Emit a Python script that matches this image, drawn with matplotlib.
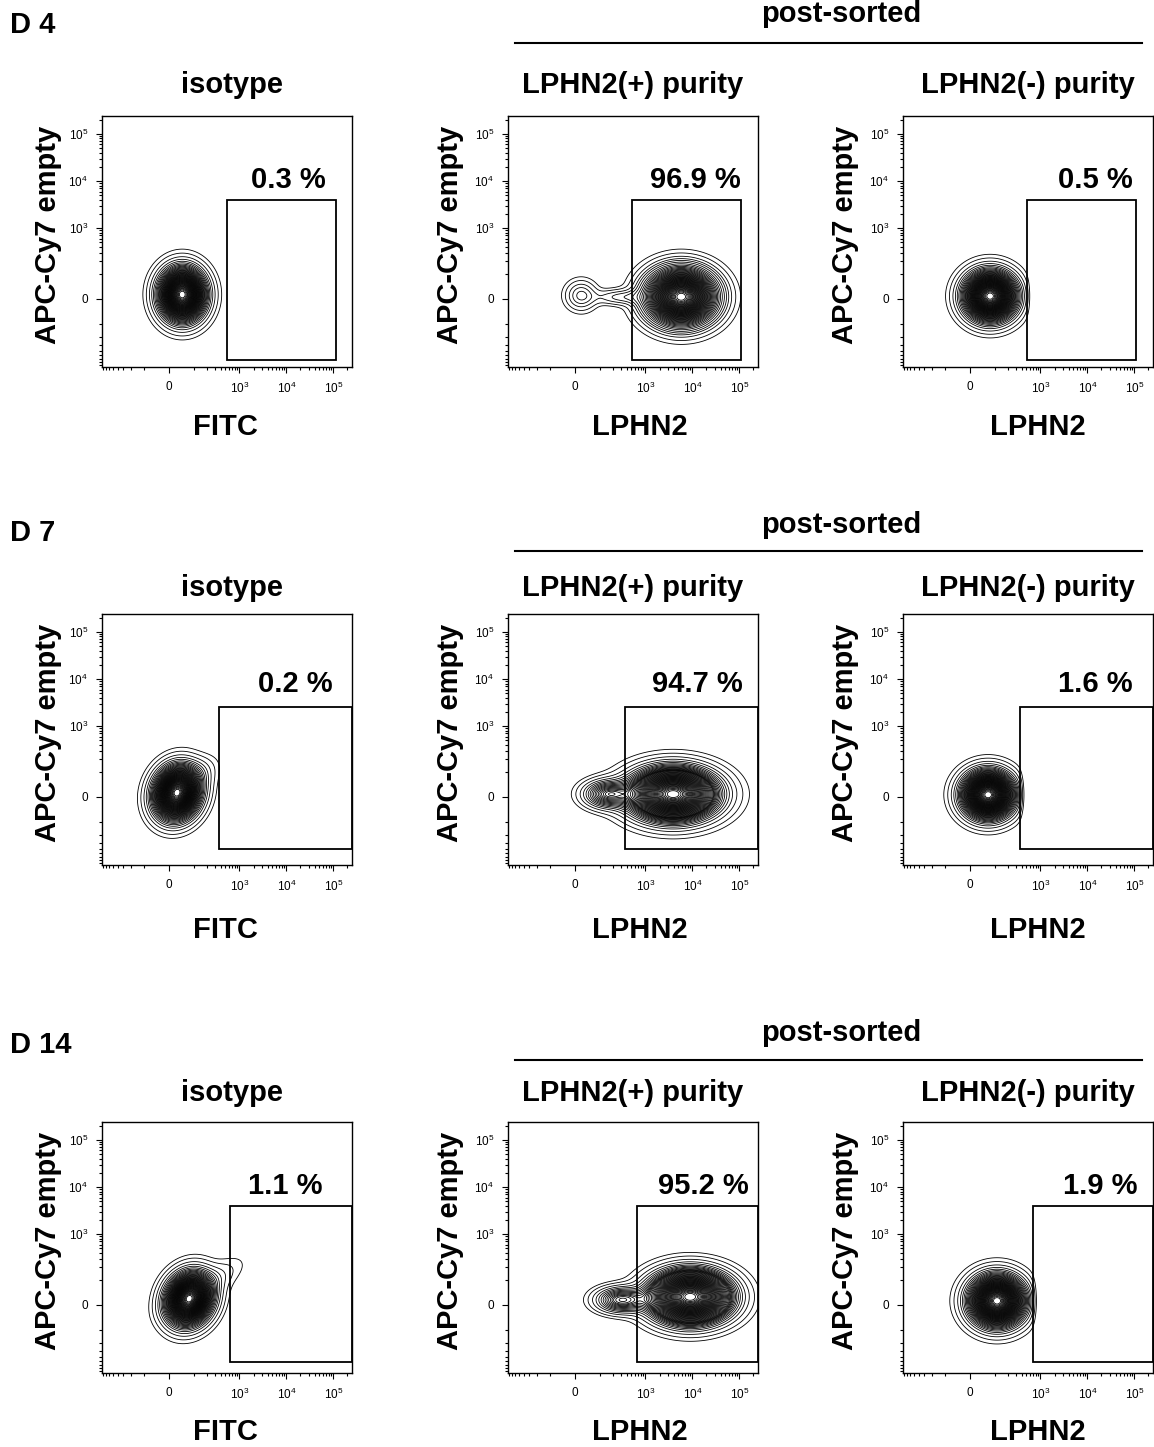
import numpy as np
import matplotlib.pyplot as plt
from matplotlib.patches import Rectangle
from matplotlib.lines import Line2D

plt.rcParams['font.family'] = ['Liberation Sans', 'DejaVu Sans']
plt.rcParams['mathtext.fontset'] = 'custom'
plt.rcParams['mathtext.rm'] = 'Liberation Sans'
plt.rcParams['mathtext.it'] = 'Liberation Sans:italic'
plt.rcParams['mathtext.bf'] = 'Liberation Sans:bold'

W, H = 1154, 1447
LIN_W = 64  # linear width of the biexponential-like (asinh) display

day_labels = ["D 4", "D 7", "D 14"]
panel_titles = ["isotype", "LPHN2(+) purity", "LPHN2(-) purity"]
x_labels = ["FITC", "LPHN2", "LPHN2"]
y_label = "APC-Cy7 empty"
group_label = "post-sorted"
gate_pcts = [[0.3, 96.9, 0.5],
             [0.2, 94.7, 1.6],
             [1.1, 95.2, 1.9]]

# gate boxes: x_min, x_max, y_min, y_max (fluorescence units)
gates = [
    [(540, 1.15e5, -635, 3900), (530, 1.1e5, -635, 3900), (530, 1.1e5, -635, 3900)],
    [(370, 2.5e5, -405, 2600), (370, 2.5e5, -405, 2600), (370, 2.5e5, -405, 2600)],
    [(634, 2.5e5, -525, 3900), (668, 2.5e5, -525, 3900), (700, 2.5e5, -525, 3900)],
]

# cell populations: x centre, y centre, x spread, y spread (decades), correlation, fraction
populations = [
    [
        [(44, 13, 0.27, 0.31, 0.0, 1.0)],
        [(5800, 6, 0.40, 0.32, 0.0, 0.956), (19, 10, 0.20, 0.19, 0.0, 0.017),
         (300, 5, 0.35, 0.10, 0.0, 0.012)],
        [(73, 8, 0.31, 0.29, 0.0, 1.0)],
    ],
    [
        [(25, 12, 0.27, 0.31, 0.12, 0.975), (110, 80, 0.26, 0.22, 0.4, 0.025)],
        [(3900, 8, 0.53, 0.31, 0.0, 0.93), (150, 8, 0.30, 0.17, 0.0, 0.07)],
        [(64, 6, 0.31, 0.28, 0.0, 1.0)],
    ],
    [
        [(73, 18, 0.27, 0.30, 0.15, 0.96), (180, 70, 0.42, 0.30, 0.75, 0.04)],
        [(9000, 25, 0.49, 0.31, 0.0, 0.93), (300, 15, 0.32, 0.16, 0.0, 0.07)],
        [(111, 12, 0.33, 0.30, 0.0, 1.0)],
    ],
]
# LPHN2(-) sorted cells stop at the sort gate
sort_cutoff = [[None, None, 530], [None, None, 370], [None, None, 700]]

XLIM = (-860, 2.5e5)
YLIM = (-900, 2.4e5)
major_ticks = [0, 1e3, 1e4, 1e5]
major_labels = ['0', r'$\mathregular{10^3}$', r'$\mathregular{10^4}$', r'$\mathregular{10^5}$']
minor_ticks = ([-k * 100 for k in range(1, 9)] + [k * 100 for k in range(1, 10)]
               + [k * 10 ** n for n in (3, 4) for k in range(2, 10)] + [2e5])

# layout in pixels
col_left = [102, 508, 903]
row_top = [116, 614, 1122]
ax_w, ax_h = 250, 251
day_y = [25, 533, 1045]
sorted_y = [14, 525, 1033]
line_y = [43, 551, 1060]
title_y = [85, 588, 1093]
title_x = [232, 633, 1028]
xlabel_y = [427, 930, 1432]
xlabel_x = [225, 640, 1038]
ylabel_x = [48, 450, 845]
pct_y = [180, 684, 1186]
pct_x = [[288, 695, 1095], [295, 697, 1095], [285, 703, 1100]]


def to_dec(v):
    return np.arcsinh(np.asarray(v, float) / LIN_W) / np.log(10)


def from_dec(u):
    return LIN_W * np.sinh(np.asarray(u, float) * np.log(10))


def fx(x):
    return x / W


def fy(y):
    return 1 - y / H


def mass_levels(z, fracs):
    flat = np.sort(z.ravel())[::-1]
    cum = np.cumsum(flat)
    cum /= cum[-1]
    return np.unique([flat[min(np.searchsorted(cum, f), flat.size - 1)] for f in fracs])


# equal-probability contours, a few sparse outer ones then 2 % steps
fracs = [0.992, 0.982] + list(np.arange(0.965, 0.015, -0.02))

fig = plt.figure(figsize=(W / 100, H / 100), dpi=100)
bold = dict(fontsize=21, fontweight='bold')

ux = np.linspace(to_dec(XLIM[0]), to_dec(XLIM[1]), 600)
uy = np.linspace(to_dec(YLIM[0]), to_dec(YLIM[1]), 600)
UX, UY = np.meshgrid(ux, uy)

for r in range(3):
    fig.text(fx(10), fy(day_y[r]), day_labels[r], ha='left', va='center', **bold)
    fig.text(fx(841), fy(sorted_y[r]), group_label, ha='center', va='center', **bold)
    fig.add_artist(Line2D([fx(515), fx(1142)], [fy(line_y[r])] * 2, color='black', lw=1.5))

    for c in range(3):
        ax = fig.add_axes([fx(col_left[c]), fy(row_top[r] + ax_h), ax_w / W, ax_h / H])
        ax.set_xscale('asinh', linear_width=LIN_W)
        ax.set_yscale('asinh', linear_width=LIN_W)

        z = np.zeros_like(UX)
        for px, py, sx, sy, rho, w in populations[r][c]:
            dx = (UX - to_dec(px)) / sx
            dy = (UY - to_dec(py)) / sy
            q = (dx ** 2 - 2 * rho * dx * dy + dy ** 2) / (1 - rho ** 2)
            z += w / (2 * np.pi * sx * sy * np.sqrt(1 - rho ** 2)) * np.exp(-0.5 * q)
        if sort_cutoff[r][c] is not None:
            z /= 1 + np.exp((UX - to_dec(sort_cutoff[r][c]) - 0.03) / 0.035)

        ax.contour(from_dec(UX), from_dec(UY), z, levels=mass_levels(z, fracs),
                   colors='black', linewidths=0.6)

        x0, x1, y0, y1 = gates[r][c]
        ax.add_patch(Rectangle((x0, y0), x1 - x0, y1 - y0, fill=False,
                               edgecolor='black', lw=1.3, zorder=5))

        ax.set_xlim(XLIM)
        ax.set_ylim(YLIM)
        ax.set_xticks(major_ticks, major_labels)
        ax.set_yticks(major_ticks, major_labels)
        ax.set_xticks(minor_ticks, minor=True)
        ax.set_yticks(minor_ticks, minor=True)
        ax.tick_params(which='both', direction='out', labelsize=8.5, width=0.8)
        ax.tick_params(which='major', length=4, pad=6)
        ax.tick_params(which='minor', length=2)
        for s in ax.spines.values():
            s.set_linewidth(1.0)

        cy_mid = row_top[r] + ax_h / 2 - 7
        fig.text(fx(title_x[c]), fy(title_y[r]), panel_titles[c], ha='center', va='center', **bold)
        fig.text(fx(xlabel_x[c]), fy(xlabel_y[r]), x_labels[c], ha='center', va='center', **bold)
        fig.text(fx(ylabel_x[c]), fy(cy_mid), y_label, ha='center', va='center',
                 rotation=90, **bold)
        fig.text(fx(pct_x[r][c]), fy(pct_y[r]), f"{gate_pcts[r][c]} %", ha='center',
                 va='center', **bold)

fig.savefig('out.png', dpi=100, facecolor='white')
